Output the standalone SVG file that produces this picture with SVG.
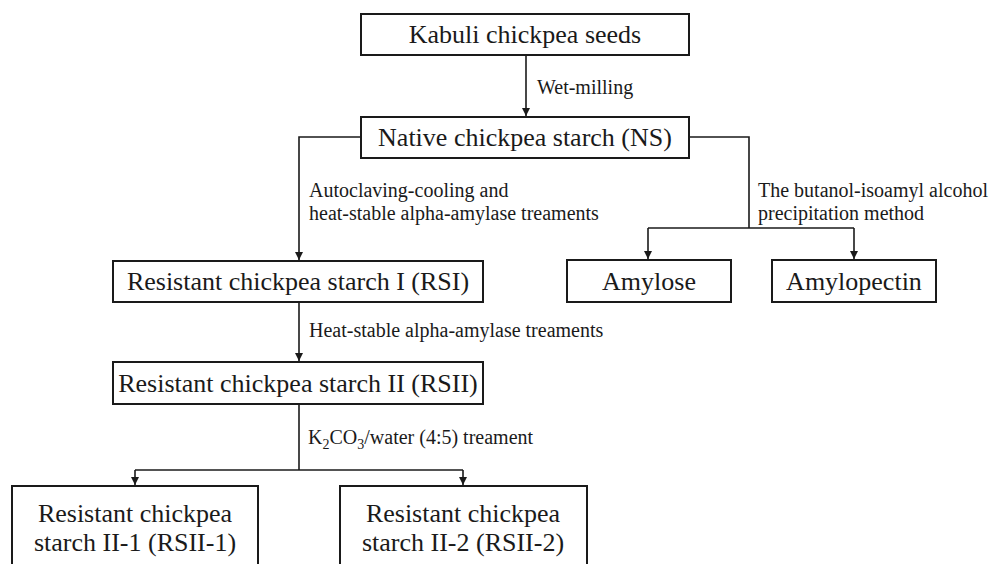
<svg xmlns="http://www.w3.org/2000/svg" width="990" height="564" viewBox="0 0 990 564">
<style>
.box{fill:#fff;stroke:#1a1a1a;stroke-width:2}
.bt{font-family:"Liberation Serif","Times New Roman",serif;font-size:26px;fill:#1a1a1a;text-anchor:middle}
.lb{font-family:"Liberation Serif","Times New Roman",serif;font-size:20px;fill:#1a1a1a}
.c{fill:none;stroke:#1a1a1a;stroke-width:1.6}
</style>
<defs>
<marker id="ah" viewBox="0 0 10 10" refX="10" refY="5" markerWidth="8" markerHeight="8" markerUnits="userSpaceOnUse" orient="auto">
<path d="M0,0 L10,5 L0,10 Z" fill="#1a1a1a"/>
</marker>
</defs>
<rect width="990" height="564" fill="#fff"/>
<g id="connectors">
<path class="c" d="M526,55 V116" marker-end="url(#ah)"/>
<path class="c" d="M361,137 H299 V260" marker-end="url(#ah)"/>
<path class="c" d="M689,137 H749 V228"/>
<path class="c" d="M648,228 H854"/>
<path class="c" d="M648,228 V259" marker-end="url(#ah)"/>
<path class="c" d="M854,228 V259" marker-end="url(#ah)"/>
<path class="c" d="M299,302 V361" marker-end="url(#ah)"/>
<path class="c" d="M299,404 V470"/>
<path class="c" d="M135,470 H463"/>
<path class="c" d="M135,470 V485" marker-end="url(#ah)"/>
<path class="c" d="M463,470 V485" marker-end="url(#ah)"/>
<text class="lb" x="537" y="94">Wet-milling</text>
<text class="lb" x="309" y="197">Autoclaving-cooling and</text>
<text class="lb" x="309" y="220">heat-stable alpha-amylase treaments</text>
<text class="lb" x="758" y="197">The butanol-isoamyl alcohol</text>
<text class="lb" x="758" y="220">precipitation method</text>
<text class="lb" x="309" y="337">Heat-stable alpha-amylase treaments</text>
<text class="lb" x="308" y="444">K<tspan font-size="14" dy="5">2</tspan><tspan dy="-5">CO</tspan><tspan font-size="14" dy="5">3</tspan><tspan dy="-5">/water (4:5) treament</tspan></text>
</g>
<g id="kabuli">
<rect class="box" x="361" y="14" width="328" height="41"/>
<text class="bt" x="525" y="43">Kabuli chickpea seeds</text>
</g>
<g id="ns">
<rect class="box" x="361" y="117" width="328" height="41"/>
<text class="bt" x="525" y="146">Native chickpea starch (NS)</text>
</g>
<g id="rsi">
<rect class="box" x="113" y="261" width="370" height="41"/>
<text class="bt" x="298" y="290">Resistant chickpea starch I (RSI)</text>
</g>
<g id="amylose">
<rect class="box" x="567" y="260" width="164" height="42"/>
<text class="bt" x="649" y="290">Amylose</text>
</g>
<g id="amylopectin">
<rect class="box" x="772" y="260" width="164" height="42"/>
<text class="bt" x="854" y="290">Amylopectin</text>
</g>
<g id="rsii">
<rect class="box" x="113" y="362" width="370" height="42"/>
<text class="bt" x="298" y="392">Resistant chickpea starch II (RSII)</text>
</g>
<g id="rsii1">
<rect class="box" x="12" y="486" width="246" height="90"/>
<text class="bt" x="135" y="522">Resistant chickpea</text>
<text class="bt" x="135" y="551">starch II-1 (RSII-1)</text>
</g>
<g id="rsii2">
<rect class="box" x="340" y="486" width="247" height="90"/>
<text class="bt" x="463" y="522">Resistant chickpea</text>
<text class="bt" x="463" y="551">starch II-2 (RSII-2)</text>
</g>
</svg>
